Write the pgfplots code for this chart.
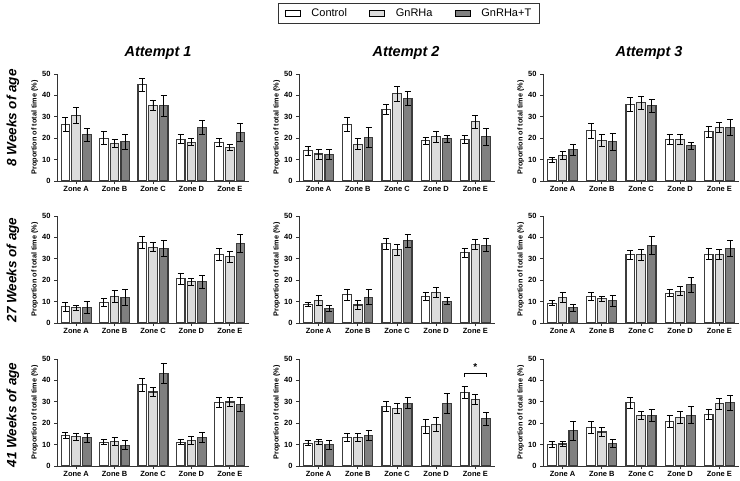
\documentclass[border=0pt]{standalone}
\usepackage{fontspec}
\setmainfont{Liberation Sans}
\usepackage{pgfplots}
\usepackage{pgfplotstable}
\pgfplotsset{compat=1.18}
\definecolor{cG}{HTML}{DCDCDC}
\definecolor{cT}{HTML}{808080}
\definecolor{edge}{HTML}{3C3C3C}

% x = zone index, c/g/t = Control / GnRHa / GnRHa+T mean, *e = error
\pgfplotstableread{
x c ce g ge t te
0 26.6 3.3 30.7 3.6 21.6 3.1
1 20.0 3.1 17.4 1.9 18.3 3.6
2 45.0 3.0 35.4 2.5 35.1 4.7
3 19.6 2.0 18.2 1.5 25.2 3.2
4 18.0 2.0 15.8 1.4 22.5 4.2
}\tAA
\pgfplotstableread{
x c ce g ge t te
0 14.1 2.0 12.6 2.3 12.3 2.3
1 26.6 3.2 17.2 2.5 20.5 4.7
2 33.4 2.5 40.7 3.6 38.5 3.4
3 18.8 1.7 20.8 2.6 19.7 1.7
4 19.6 1.8 27.6 3.0 20.7 4.0
}\tAB
\pgfplotstableread{
x c ce g ge t te
0 9.9 1.3 12.0 1.7 14.6 2.6
1 23.4 3.3 19.1 2.8 18.3 4.1
2 35.9 3.2 36.5 3.1 35.1 3.1
3 19.6 2.3 19.4 2.2 16.6 1.6
4 23.0 2.6 25.0 2.2 25.0 3.9
}\tAC
\pgfplotstableread{
x c ce g ge t te
0 7.6 2.2 7.1 1.1 7.4 2.7
1 9.6 1.7 12.5 2.7 11.9 3.6
2 37.8 2.9 35.4 2.1 34.7 3.7
3 20.7 2.7 19.2 1.5 19.2 3.2
4 32.2 2.8 31.0 2.6 37.2 4.3
}\tBA
\pgfplotstableread{
x c ce g ge t te
0 8.7 0.9 10.5 2.2 6.8 1.2
1 13.2 2.7 8.4 2.1 12.1 3.5
2 37.0 2.6 34.2 2.6 38.4 2.9
3 12.4 1.7 14.2 2.4 10.2 1.7
4 32.8 2.0 36.8 2.4 36.4 3.1
}\tBB
\pgfplotstableread{
x c ce g ge t te
0 9.3 1.2 12.1 2.3 7.1 1.6
1 12.5 1.9 11.3 1.2 10.4 2.6
2 31.9 2.2 31.9 2.6 36.2 4.2
3 13.9 1.6 14.9 2.1 17.8 3.3
4 32.2 2.5 32.2 2.3 34.8 3.9
}\tBC
\pgfplotstableread{
x c ce g ge t te
0 14.2 1.5 13.6 1.5 13.2 2.1
1 11.1 1.2 11.5 1.7 9.7 2.1
2 37.9 2.9 34.6 2.0 43.3 4.5
3 11.1 1.2 12.0 1.7 13.4 2.2
4 29.6 2.3 29.9 2.2 28.8 3.3
}\tCA
\pgfplotstableread{
x c ce g ge t te
0 10.7 1.3 11.4 1.1 10.0 2.1
1 13.2 1.9 13.2 1.9 14.3 2.4
2 27.9 2.2 26.9 2.4 29.3 2.6
3 18.5 3.3 19.5 3.2 29.1 4.7
4 34.4 2.8 31.2 2.4 22.1 3.0
}\tCB
\pgfplotstableread{
x c ce g ge t te
0 10.1 1.4 10.3 1.2 16.5 4.4
1 18.1 2.8 15.9 2.0 10.6 1.7
2 29.6 2.5 23.7 2.0 23.8 2.8
3 20.9 2.8 22.7 2.8 23.8 3.9
4 24.1 2.4 29.1 2.5 29.6 3.6
}\tCC

\pgfplotsset{
  zpanel/.style={
    scale only axis, height=107pt,
    ymin=0, ymax=50, ytick={0,10,...,50},
    xmin=-0.5, xmax=4.5,
    xtick={0,1,2,3,4}, xticklabels={Zone A,Zone B,Zone C,Zone D,Zone E},
    axis x line*=bottom, axis y line*=left,
    axis line style={-, line width=0.9pt, black!80},
    tick style={line width=0.9pt, black!80},
    tick align=outside, major tick length=3pt,
    ticklabel style={font=\bfseries\fontsize{7.5}{8}\selectfont},
    xticklabel style={yshift=1pt},
    ylabel={Proportion of total time (\%)},
    ylabel style={font=\bfseries\fontsize{7.3}{8}\selectfont, yshift=-3pt},
    /pgf/number format/assume math mode=true,
    ybar=2.1pt, bar width=8.6pt,
    clip=false,
  },
  ebars/.style={error bars/.cd, y dir=both, y explicit,
    error bar style={line width=0.8pt, black},
    error mark options={rotate=90, mark size=3pt, line width=0.8pt, black}},
  barC/.style={fill=white, draw=edge, line width=1.1pt, ebars},
  barG/.style={fill=cG, draw=edge, line width=1.1pt, ebars},
  barT/.style={fill=cT, draw=edge, line width=1.1pt, ebars},
}

\newcommand{\panel}[5]{%
\begin{axis}[zpanel, width=#3pt, at={(#1pt,-#2pt)}, anchor=south west]
\addplot[barC] table[x=x, y=c, y error=ce] {#4};
\addplot[barG] table[x=x, y=g, y error=ge] {#4};
\addplot[barT] table[x=x, y=t, y error=te] {#4};
#5
\end{axis}}

\begin{document}
\begin{tikzpicture}
\path[use as bounding box] (0pt,0pt) rectangle (740pt,-480pt);

% Row 1 with legend
\begin{axis}[zpanel, width=192pt, at={(57pt,-181pt)}, anchor=south west,
  legend columns=3,
  legend style={at={(1.833,1.565)}, anchor=center, draw=black!80, line width=0.8pt,
    font=\fontsize{11}{12}\selectfont,
    /tikz/every odd column/.append style={column sep=9pt},
    /tikz/every even column/.append style={column sep=20pt},
    inner xsep=6pt, inner ysep=3.5pt},
  legend cell align=left]
\addplot[legend image code/.code={\draw[fill=white, draw=black, line width=0.9pt] (0pt,-2.7pt) rectangle (15pt,2.7pt);}, barC] table[x=x, y=c, y error=ce] {\tAA};
\addplot[legend image code/.code={\draw[fill=cG, draw=black, line width=0.9pt] (0pt,-2.7pt) rectangle (15pt,2.7pt);}, barG] table[x=x, y=g, y error=ge] {\tAA};
\addplot[legend image code/.code={\draw[fill=cT, draw=black, line width=0.9pt] (0pt,-2.7pt) rectangle (15pt,2.7pt);}, barT] table[x=x, y=t, y error=te] {\tAA};
\legend{Control, GnRHa, GnRHa+T}
\end{axis}
\panel{299}{181}{196}{\tAB}{}
\panel{543}{181}{196}{\tAC}{}

% Row 2
\panel{57}{323}{192}{\tBA}{}
\panel{299}{323}{196}{\tBB}{}
\panel{543}{323}{196}{\tBC}{}

% Row 3
\panel{57}{466}{192}{\tCA}{}
\panel{299}{466}{196}{\tCB}{%
  \draw[black, line width=0.8pt] (axis cs:3.727,41.5) -- (axis cs:3.727,43.3) -- (axis cs:4.273,43.3) -- (axis cs:4.273,41.5);
  \node[font=\bfseries\fontsize{10}{10}\selectfont] at (axis cs:4,46.3) {*};}
\panel{543}{466}{196}{\tCC}{}

% column titles
\node[font=\bfseries\itshape\fontsize{14.5}{16}\selectfont] at (158pt,-53pt) {Attempt 1};
\node[font=\bfseries\itshape\fontsize{14.5}{16}\selectfont] at (406pt,-53pt) {Attempt 2};
\node[font=\bfseries\itshape\fontsize{14.5}{16}\selectfont] at (649pt,-53pt) {Attempt 3};

% row labels
\node[rotate=90, font=\bfseries\itshape\fontsize{13.5}{15}\selectfont] at (13pt,-118pt) {8 Weeks of age};
\node[rotate=90, font=\bfseries\itshape\fontsize{13.5}{15}\selectfont] at (13pt,-270pt) {27 Weeks of age};
\node[rotate=90, font=\bfseries\itshape\fontsize{13.5}{15}\selectfont] at (13pt,-415pt) {41 Weeks of age};
\end{tikzpicture}
\end{document}
